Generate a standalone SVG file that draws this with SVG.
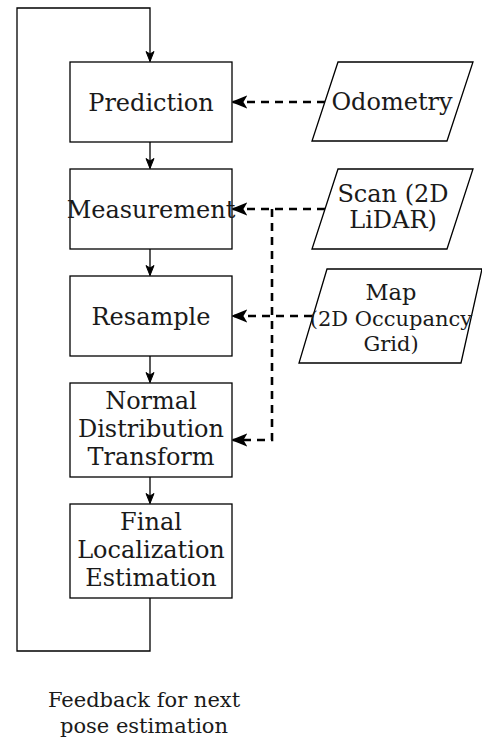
<svg xmlns="http://www.w3.org/2000/svg" width="482" height="739" viewBox="0 0 482 739">
<defs>
<style>
.box{fill:#fff;stroke:#000;stroke-width:1.3}
.t{font-family:"DejaVu Serif",serif;font-size:24px;fill:#1a1a1a;text-anchor:middle}
.s{font-size:21px}
.solid{fill:none;stroke:#000;stroke-width:1.3}
.dash{fill:none;stroke:#000;stroke-width:2.6;stroke-dasharray:8 6}
</style>
<marker id="ah" markerWidth="16" markerHeight="14" refX="14" refY="7" orient="auto" markerUnits="userSpaceOnUse">
<path d="M1.5,2 L14,7 L1.5,12 L4.5,7 Z" fill="#000" stroke="#000" stroke-width="1.5" stroke-linejoin="miter"/>
</marker>
<marker id="as" markerWidth="12" markerHeight="10" refX="11" refY="5" orient="auto" markerUnits="userSpaceOnUse">
<path d="M1,1 L11,5 L1,9 L3.5,5 Z" fill="#000" stroke="#000" stroke-width="1"/>
</marker>
</defs>
<rect width="482" height="739" fill="#fff"/>
<g id="connectors">
<path class="solid" d="M150,598 V651 H17 V8 H150 V61.5" marker-end="url(#as)"/>
<path class="solid" d="M150,142 V168.5" marker-end="url(#as)"/>
<path class="solid" d="M150,249 V275.5" marker-end="url(#as)"/>
<path class="solid" d="M150,356 V382.5" marker-end="url(#as)"/>
<path class="solid" d="M150,477 V503.5" marker-end="url(#as)"/>
<path class="dash" d="M325,102 H233" marker-end="url(#ah)"/>
<path class="dash" d="M325,209 H233" marker-end="url(#ah)"/>
<path class="dash" d="M272,209 V440 H233" marker-end="url(#ah)"/>
<path class="dash" d="M312,316 H233" marker-end="url(#ah)"/>
</g>
<g id="prediction"><rect class="box" x="70" y="62" width="162" height="80"/><text class="t" x="151" y="111">Prediction</text></g>
<g id="measurement"><rect class="box" x="70" y="169" width="162" height="80"/><text class="t" x="151" y="218">Measurement</text></g>
<g id="resample"><rect class="box" x="70" y="276" width="162" height="80"/><text class="t" x="151" y="325">Resample</text></g>
<g id="ndt"><rect class="box" x="70" y="383" width="162" height="94"/><text class="t" x="151" y="409">Normal<tspan x="151" dy="28">Distribution</tspan><tspan x="151" dy="28">Transform</tspan></text></g>
<g id="final"><rect class="box" x="70" y="504" width="162" height="94"/><text class="t" x="151" y="530">Final<tspan x="151" dy="28">Localization</tspan><tspan x="151" dy="28">Estimation</tspan></text></g>
<g id="odometry"><path class="box" d="M338,62 H473 L447,141 H312 Z"/><text class="t" x="392" y="110">Odometry</text></g>
<g id="scan"><path class="box" d="M338,169 H473 L447,249 H312 Z"/><text class="t" x="393" y="202">Scan (2D<tspan x="393" dy="26">LiDAR)</tspan></text></g>
<g id="map"><path class="box" d="M327,269 H482 L461,363 H299 Z"/><text class="t s" x="391" y="300"><tspan font-size="22.5">Map</tspan><tspan x="391" dy="25.5">(2D Occupancy</tspan><tspan x="391" dy="25">Grid)</tspan></text></g>
<g id="feedback"><text class="t s" x="144" y="707">Feedback for next<tspan x="144" dy="26">pose estimation</tspan></text></g>
</svg>
